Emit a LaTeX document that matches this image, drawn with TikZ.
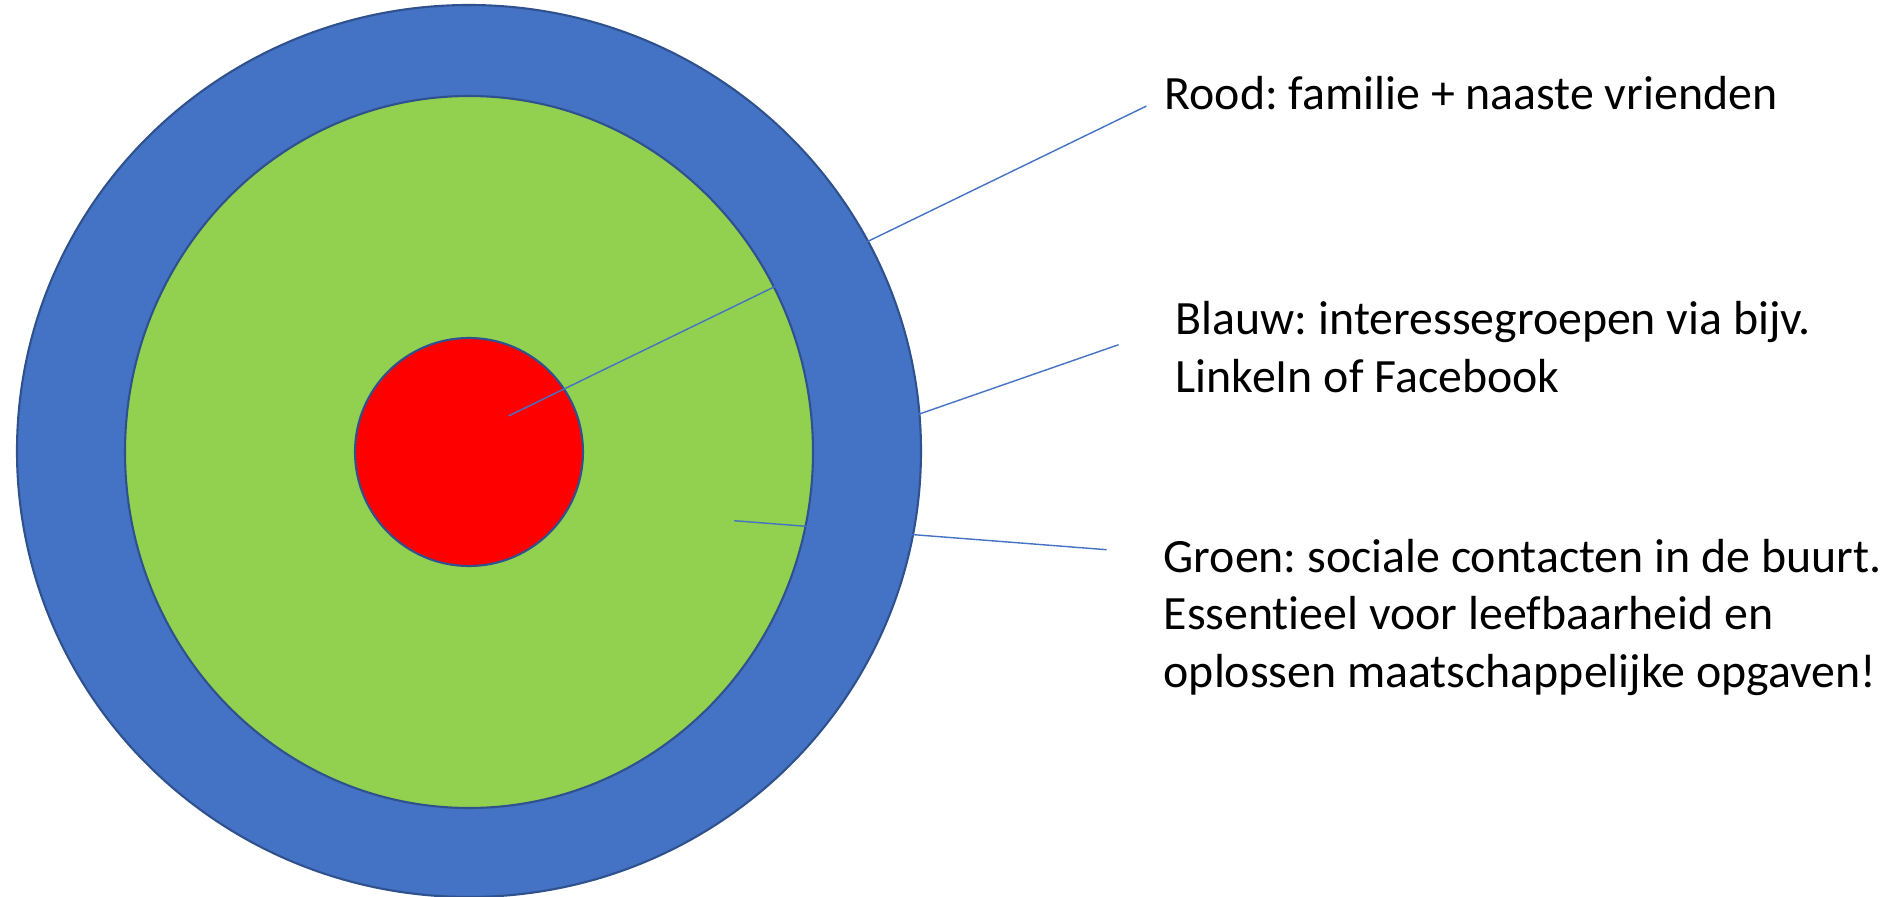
\documentclass[tikz,border=0pt]{standalone}
\usepackage{fontspec}
\setmainfont{Carlito}[Ligatures=NoCommon]
\frenchspacing
\definecolor{ringblue}{HTML}{4472C4}
\definecolor{ringgreen}{HTML}{92D050}
\definecolor{ringred}{HTML}{FF0000}
\definecolor{rimblue}{HTML}{2F528F}

\begin{document}
\begin{tikzpicture}[x=0.01cm, y=-0.01cm,
		ring/.style={draw=rimblue, line width=0.6pt},
		callout/.style={draw=ringblue, line width=0.4pt},
		label/.style={anchor=base west, inner sep=0pt, align=left,
			font=\fontsize{13.6}{16.3}\selectfont}]
		\useasboundingbox (0, 0) rectangle (1890, 897);
		% the three rings, outer to inner
		\draw [ring, fill=ringblue] (469, 451) ellipse [x radius=452, y radius=446];
		\draw [ring, fill=ringgreen] (469, 452) ellipse [x radius=344, y radius=356];
		\draw [ring, fill=ringred] (469, 452) circle [radius=114];
		% texts on the right (base = baseline of the last line)
		\node [label] (rood) at (1164, 109) {Rood: familie + naaste vrienden};
		\node [label] (blauw) at (1175, 392) {Blauw: interessegroepen via bijv.\\LinkeIn of Facebook};
		\node [label] (groen) at (1163, 687) {Groen: sociale contacten in de buurt.\\Essentieel voor leefbaarheid en\\oplossen maatschappelijke opgaven!};
		% end points of the callout lines
		\coordinate (roodin) at (508.7, 415.9);
		\coordinate (roodout) at (1146.3, 106.1);
		\coordinate (blauwin) at (867.9, 431.9);
		\coordinate (blauwout) at (1118.6, 344.7);
		\coordinate (groenin) at (734.1, 520.7);
		\coordinate (groenout) at (1106.6, 549.7);
		\draw [callout] (roodin) -- (roodout);
		\draw [callout] (blauwin) -- (blauwout);
		\draw [callout] (groenin) -- (groenout);
	\end{tikzpicture}
\end{document}
